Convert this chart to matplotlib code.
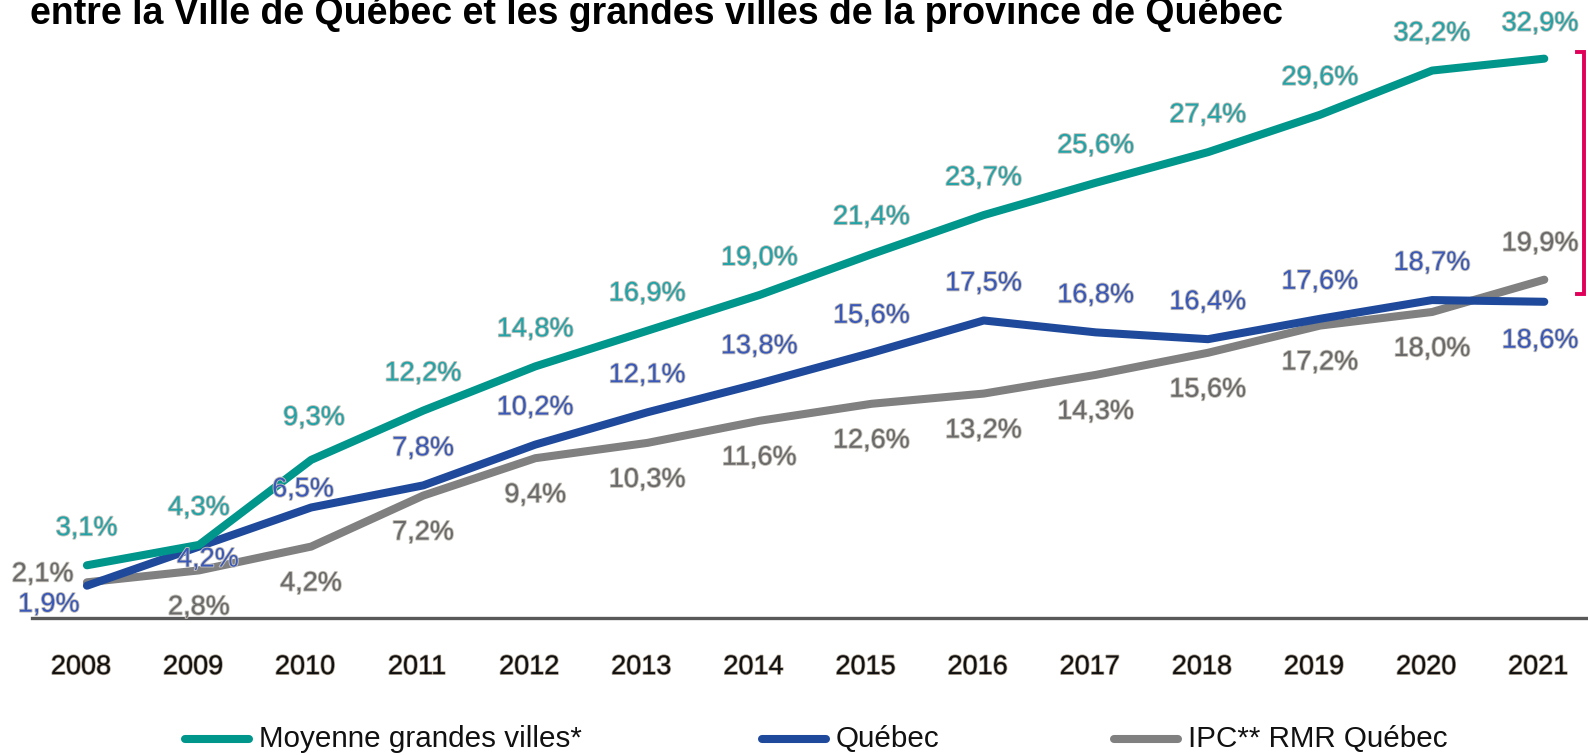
import matplotlib
matplotlib.use("Agg")
import matplotlib.pyplot as plt
import matplotlib.patheffects as pe
from matplotlib.lines import Line2D
from matplotlib.transforms import ScaledTranslation

plt.rcParams["font.family"] = ["Liberation Sans", "DejaVu Sans"]

# ---- data ----
years = [2008, 2009, 2010, 2011, 2012, 2013, 2014,
         2015, 2016, 2017, 2018, 2019, 2020, 2021]
moyenne = [3.1, 4.3, 9.3, 12.2, 14.8, 16.9, 19.0,
           21.4, 23.7, 25.6, 27.4, 29.6, 32.2, 32.9]
quebec = [1.9, 4.2, 6.5, 7.8, 10.2, 12.1, 13.8,
          15.6, 17.5, 16.8, 16.4, 17.6, 18.7, 18.6]
ipc = [2.1, 2.8, 4.2, 7.2, 9.4, 10.3, 11.6,
       12.6, 13.2, 14.3, 15.6, 17.2, 18.0, 19.9]
series_names = ["Moyenne grandes villes*", "Québec", "IPC** RMR Québec"]
title = "entre la Ville de Québec et les grandes villes de la province de Québec"

# ---- style ----
TEAL, TEAL_TXT = "#00968C", "#22A3A8"
BLUE, BLUE_TXT = "#1F4A9C", "#3A58B8"
GRAY, GRAY_TXT = "#808080", "#6A6A6A"
PINK = "#E0005A"

# label offsets in pixels (dx, dy), up is positive
up, down = (0, 37), (0, -37)
off_moy = [up] * 14
off_moy[2] = (3, 42)
off_moy[-1] = (-4, 35)
off_que = [up] * 14
off_que[0] = (-38, -19)
off_que[1] = (9, -13)
off_que[2] = (-8, 18)
off_que[-1] = (-4, -39)
off_ipc = [down] * 14
off_ipc[0] = (-44, 8)
off_ipc[-1] = (-4, 36)

W, H = 1588, 755
fig = plt.figure(figsize=(W / 100, H / 100), dpi=100)
ax = fig.add_axes([32 / W, 137 / H, (W - 32) / W, 618 / H])
ax.set_xlim(2007.51, 2021.39)
ax.set_ylim(0, 36.35)

halo = [pe.withStroke(linewidth=1.3, foreground="#C4C0B8")]

series = [
    (moyenne, TEAL, TEAL_TXT, off_moy),
    (quebec, BLUE, BLUE_TXT, off_que),
    (ipc, GRAY, GRAY_TXT, off_ipc),
]
for vals, col, tcol, offs in reversed(series):
    ax.plot(years, vals, color=col, lw=5.8, solid_capstyle="round",
            solid_joinstyle="round", clip_on=False)
    for x, v, (dx, dy) in zip(years, vals, offs):
        ax.annotate(f"{v:.1f}%".replace(".", ","), (x, v),
                    xytext=(dx, dy), textcoords="offset pixels",
                    ha="center", va="center", fontsize=19.5, color=tcol,
                    path_effects=halo, annotation_clip=False)

for s in ["top", "left", "right"]:
    ax.spines[s].set_visible(False)
ax.spines["bottom"].set_color("#595959")
ax.spines["bottom"].set_linewidth(2.4)
ax.set_yticks([])
ax.set_xticks(years)
ax.set_xticklabels([str(y) for y in years], fontsize=19.5, color="#111111")
ax.tick_params(axis="x", length=0, pad=26)
for lab in ax.get_xticklabels():
    lab.set_transform(lab.get_transform() + ScaledTranslation(-0.06, 0, fig.dpi_scale_trans))
    lab.set_path_effects([pe.withStroke(linewidth=1.1, foreground="#A89C8C")])

# bracket on the right edge
ax.plot([2021.29, 2021.355, 2021.355, 2021.29], [33.3, 33.3, 19.05, 19.05],
        color=PINK, lw=2.8, clip_on=False, solid_joinstyle="miter")

# legend, entries placed by hand (uneven spacing as in the source)
leg_y = 1 - 739 / H
handle_x = [185, 762, 1114]
for (vals, col, _, _), name, hx in zip(series, series_names, handle_x):
    fig.add_artist(Line2D([hx / W, (hx + 64) / W], [leg_y, leg_y],
                          transform=fig.transFigure, color=col, lw=5.8,
                          solid_capstyle="round"))
    fig.text((hx + 74) / W, leg_y, name, fontsize=21.3, color="#111111",
             ha="left", va="center")

fig.text(30 / W, 1 - 24 / H, title, fontsize=27, fontweight="bold",
         ha="left", va="baseline", color="black")

fig.savefig("out.png", dpi=100)
